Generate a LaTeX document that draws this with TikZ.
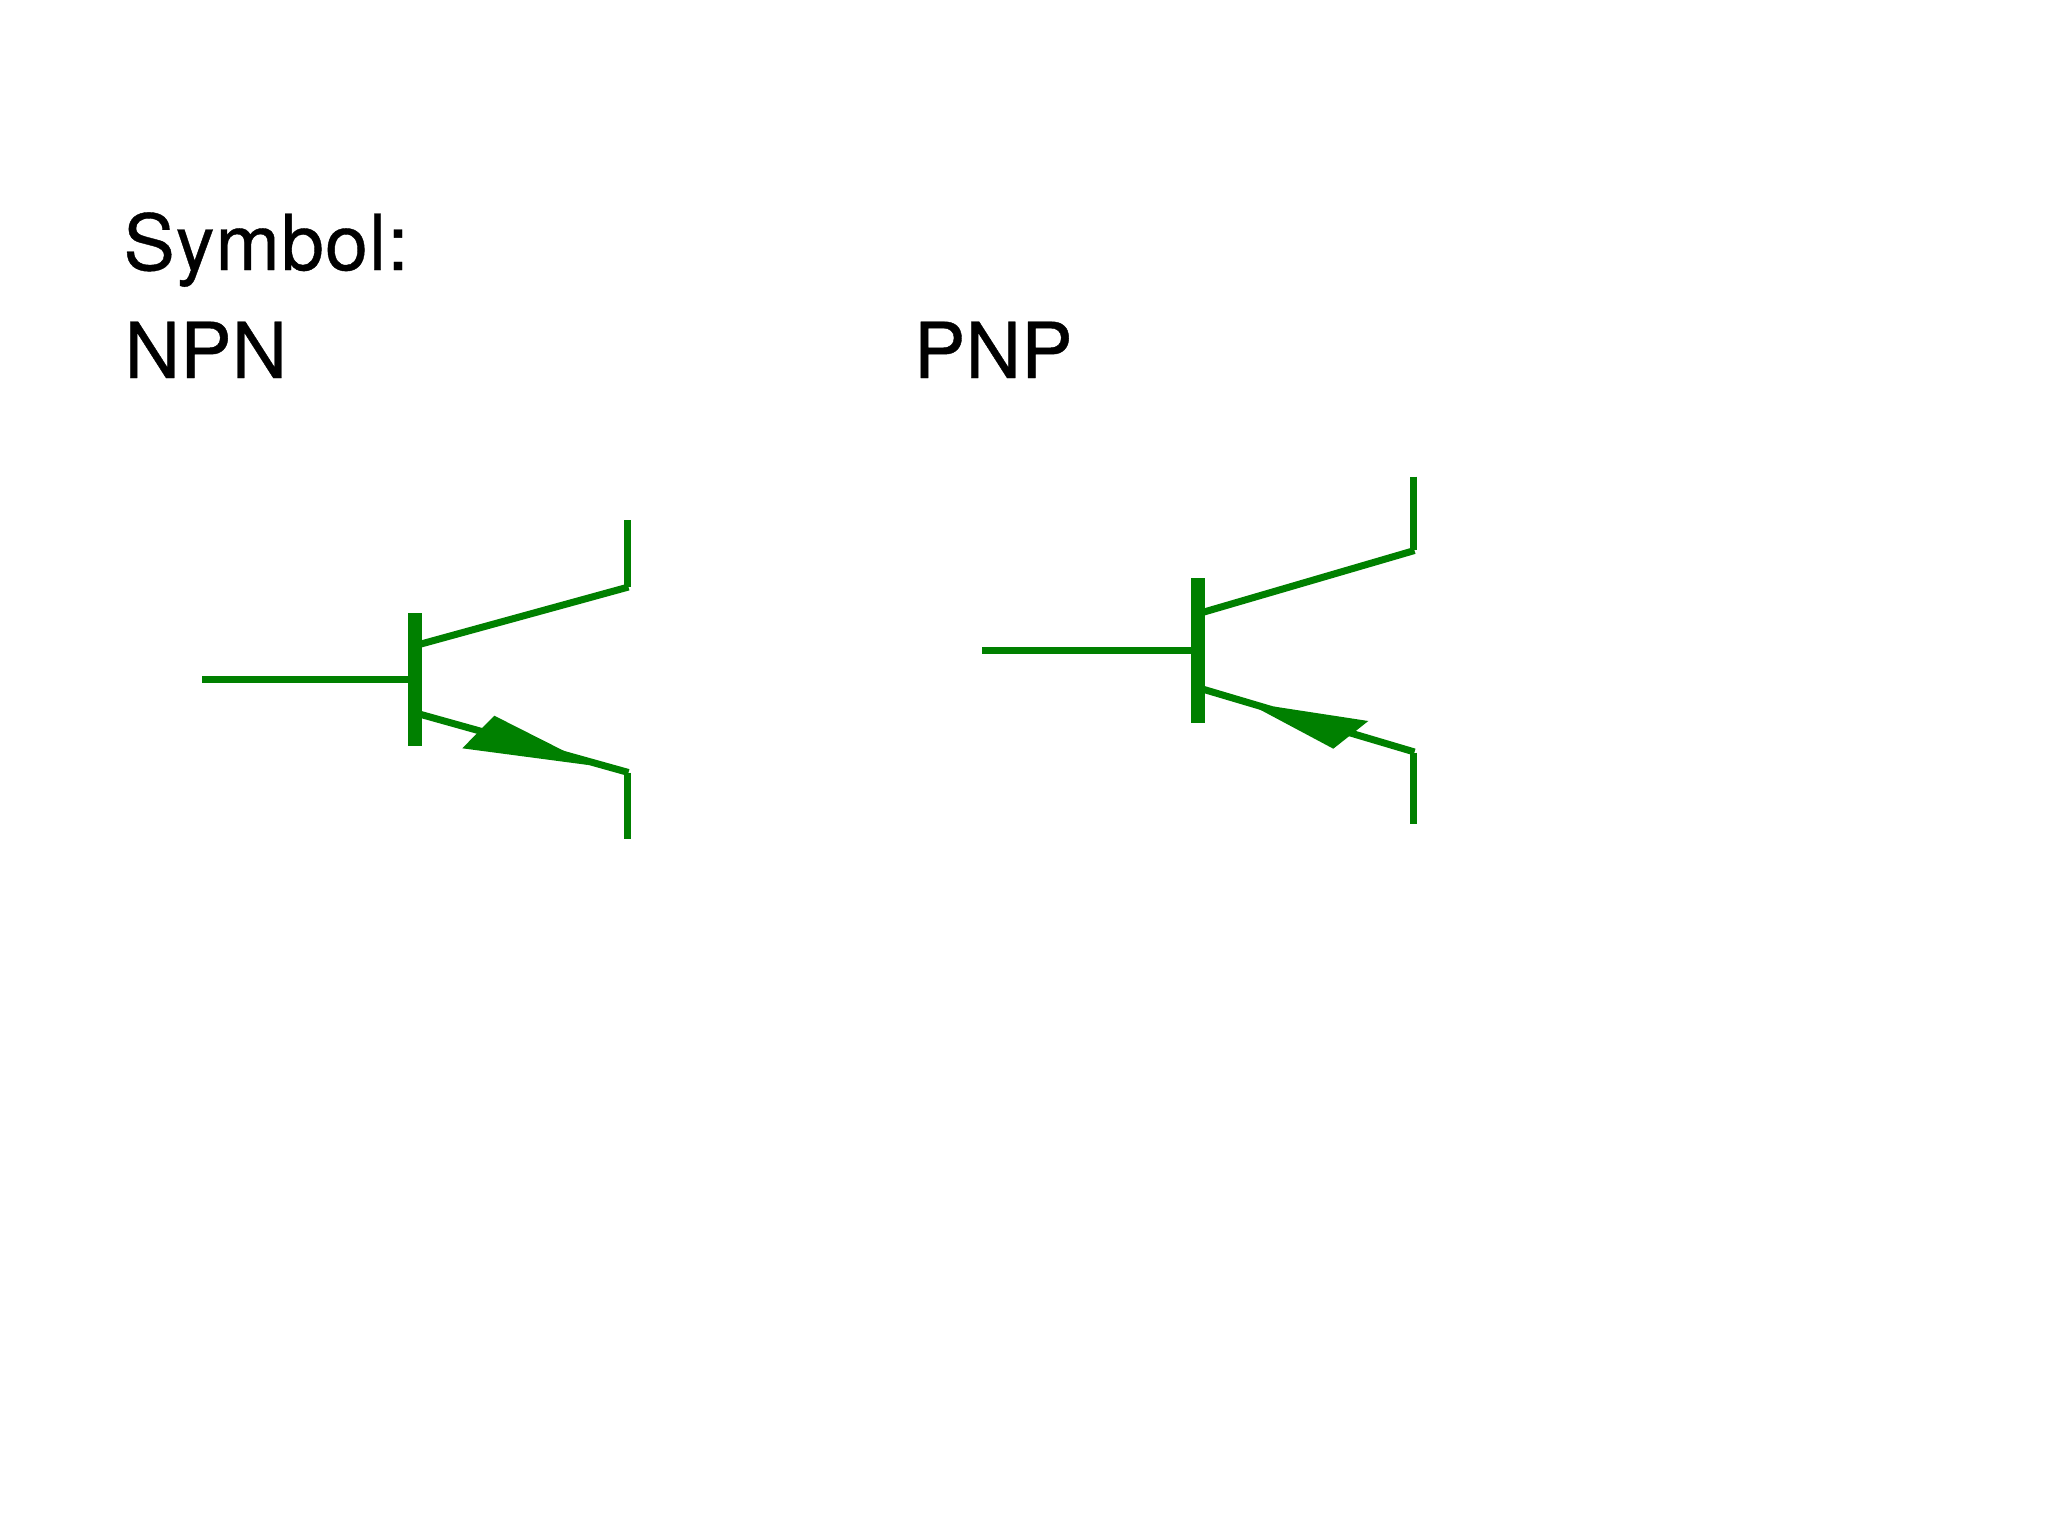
\documentclass[tikz,border=0pt]{standalone}
\usepackage{fontspec}
\setmainfont[Kerning=Off,FakeBold=0.5]{TeX Gyre Heros}
\definecolor{wire}{HTML}{008000}
\tikzset{
  label text/.style={anchor=base west,inner sep=0pt,text=black,font=\fontsize{38.6pt}{44pt}\selectfont},
  lead/.style={draw=wire,line width=3.5pt,line cap=butt},
  barbody/.style={fill=wire,draw=none},
  headshape/.style={fill=wire,draw=none}
}
\begin{document}
\begin{tikzpicture}[x=0.5pt,y=-0.5pt]
\useasboundingbox[fill=white] (0,0) rectangle (2048,1536);
\node[label text] (symbol) at (123,270) {\addfontfeature{LetterSpace=1.4}Symbol:};
\node[label text] (npn) at (124,378) {NPN};
\node[label text] (pnp) at (913.5,378) {PNP};
% NPN
\coordinate (nb) at (202,679.5);
\coordinate (nbar) at (410,679.5);
\coordinate (nct) at (421,644);
\coordinate (nce) at (628.5,587);
\coordinate (nvct) at (627.5,520);
\coordinate (nvcb) at (627.5,586.5);
\coordinate (net) at (421,714.5);
\coordinate (nee) at (628.5,772.5);
\coordinate (nvet) at (627.5,772.5);
\coordinate (nveb) at (627.5,839);
\draw[lead] (nb) -- (nbar);
\draw[lead] (nct) -- (nce);
\draw[lead] (nvct) -- (nvcb);
\draw[lead] (net) -- (nee);
\draw[lead] (nvet) -- (nveb);
\fill[barbody] (408.3,613.3) rectangle (421.7,746);
\fill[headshape] (462.3,748.3) -- (494.3,715.7) -- (566.7,752.3) -- (588.3,765) -- cycle;
% PNP
\coordinate (pb) at (982,650.7);
\coordinate (pbar) at (1192,650.7);
\coordinate (pct) at (1204,612);
\coordinate (pce) at (1414.5,550.5);
\coordinate (pvct) at (1413.7,476.7);
\coordinate (pvcb) at (1413.7,549.5);
\coordinate (pet) at (1204,689.5);
\coordinate (pee) at (1414.5,752);
\coordinate (pvet) at (1413.7,752.7);
\coordinate (pveb) at (1413.7,824.3);
\draw[lead] (pb) -- (pbar);
\draw[lead] (pct) -- (pce);
\draw[lead] (pvct) -- (pvcb);
\draw[lead] (pet) -- (pee);
\draw[lead] (pvet) -- (pveb);
\fill[barbody] (1190.7,578.3) rectangle (1205,723.3);
\fill[headshape] (1256,707.5) -- (1275,706.7) -- (1368.3,721) -- (1333.3,748.7) -- cycle;
\end{tikzpicture}
\end{document}
